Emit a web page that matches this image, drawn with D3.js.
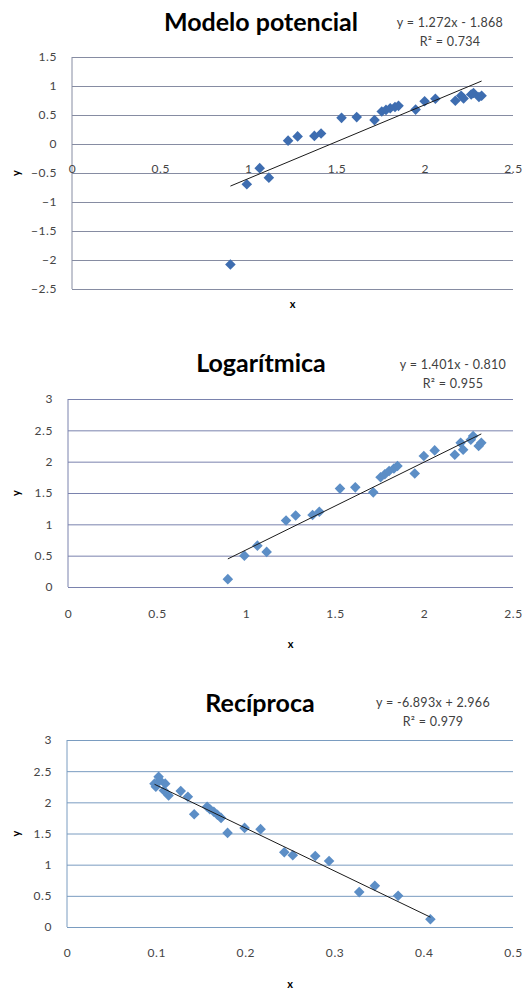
<!DOCTYPE html>
<html>
<head>
<meta charset="utf-8">
<script src="https://cdn.jsdelivr.net/npm/d3@7"></script>
<style>
    body { margin: 0; background: #fff; }
    .tick text { font-family: Lato, "Liberation Sans", sans-serif; font-size: 12px; letter-spacing: 0.6px; fill: #454545; }
    .grid path { display: none; }
</style>
</head>
<body>
<div id="chart"></div>
<script>
// Datos: modelo potencial (ln x, ln y)
var potencialX = [0.898, 0.991, 1.064, 1.116, 1.225, 1.279, 1.374, 1.412, 1.528, 1.614, 1.715, 1.756, 1.780,
                  1.804, 1.831, 1.851, 1.948, 1.999, 2.060, 2.173, 2.206, 2.220, 2.263, 2.276, 2.307, 2.322];
var potencialY = [-2.079, -0.693, -0.416, -0.580, 0.058, 0.131, 0.140, 0.182, 0.451, 0.464, 0.412, 0.560, 0.588,
                  0.615, 0.637, 0.658, 0.593, 0.737, 0.779, 0.747, 0.833, 0.784, 0.854, 0.880, 0.811, 0.833];

// Datos: logarítmica (ln x, y)
var logX = [0.898, 0.991, 1.064, 1.116, 1.225, 1.279, 1.374, 1.412, 1.528, 1.614, 1.715, 1.756, 1.780,
            1.804, 1.831, 1.851, 1.948, 1.999, 2.060, 2.173, 2.206, 2.220, 2.263, 2.276, 2.307, 2.322];
var logY = [0.125, 0.50, 0.66, 0.56, 1.06, 1.14, 1.15, 1.20, 1.57, 1.59, 1.51, 1.75, 1.80,
            1.85, 1.89, 1.93, 1.81, 2.09, 2.18, 2.11, 2.30, 2.19, 2.35, 2.41, 2.25, 2.30];

// Datos: recíproca (1/x, y)
var recX = [0.4074, 0.3712, 0.3451, 0.3276, 0.2938, 0.2783, 0.2531, 0.2436, 0.2170, 0.1991, 0.1800, 0.1727, 0.1686,
            0.1646, 0.1602, 0.1571, 0.1426, 0.1355, 0.1275, 0.1139, 0.1101, 0.1086, 0.1040, 0.1027, 0.0996, 0.0981];
var recY = [0.125, 0.50, 0.66, 0.56, 1.06, 1.14, 1.15, 1.20, 1.57, 1.59, 1.51, 1.75, 1.80,
            1.85, 1.89, 1.93, 1.81, 2.09, 2.18, 2.11, 2.30, 2.19, 2.35, 2.41, 2.25, 2.30];

// Líneas de tendencia [pendiente, intercepto]
var potencialTrend = [1.272, -1.868];
var logTrend = [1.401, -0.810];
var recTrend = [-6.893, 2.966];

// Ticks de los ejes
var ticksX = [0, 0.5, 1, 1.5, 2, 2.5];
var ticksXRec = [0, 0.1, 0.2, 0.3, 0.4, 0.5];
var ticksYPotencial = [-2.5, -2, -1.5, -1, -0.5, 0, 0.5, 1, 1.5];
var ticksY = [0, 0.5, 1, 1.5, 2, 2.5, 3];

// Títulos y ecuaciones
var titulos = ["Modelo potencial", "Logarítmica", "Recíproca"];
var ecuaciones = ["y = 1.272x - 1.868", "y = 1.401x - 0.810", "y = -6.893x + 2.966"];
var r2 = ["R² = 0.734", "R² = 0.955", "R² = 0.979"];

var svg = d3.select("#chart")
            .append("svg")
            .attr("width", 532)
            .attr("height", 990);

var fuente = "Lato, 'Liberation Sans', sans-serif";

function dibujarGrafico(xs, ys, trend, opt) {
    var xScale = d3.scaleLinear().domain(opt.xDom).range([opt.left, opt.right]);
    var yScale = d3.scaleLinear().domain(opt.yDom).range([opt.bottom, opt.top]);

    // Líneas de cuadrícula horizontales
    svg.append("g")
        .attr("class", "grid")
        .attr("transform", "translate(" + opt.left + ",0)")
        .call(d3.axisLeft(yScale).tickValues(opt.yTicks).tickSize(-(opt.right - opt.left)).tickFormat(""))
        .selectAll("line").style("stroke", opt.gridColor);

    // Borde izquierdo
    svg.append("line")
        .attr("x1", opt.left).attr("x2", opt.left)
        .attr("y1", opt.top).attr("y2", opt.bottom)
        .style("stroke", opt.gridColor);

    // Eje y (etiquetas)
    var gy = svg.append("g")
        .attr("transform", "translate(" + opt.left + ",0)")
        .call(d3.axisLeft(yScale).tickValues(opt.yTicks).tickSize(0).tickPadding(15).tickFormat(d3.format("")));
    gy.select(".domain").remove();

    // Eje x (etiquetas)
    var gx = svg.append("g")
        .attr("transform", "translate(0," + (opt.xLabelY - 7) + ")")
        .call(d3.axisBottom(xScale).tickValues(opt.xTicks).tickSize(0).tickFormat(d3.format("")));
    gx.select(".domain").remove();

    // Puntos (rombos)
    var datos = xs.map(function(x, i) { return { x: x, y: ys[i] }; });
    svg.selectAll(null)
        .data(datos)
        .enter().append("path")
        .attr("d", d3.symbol().type(d3.symbolSquare).size(56))
        .attr("transform", function(d) {
            return "translate(" + xScale(d.x) + "," + yScale(d.y) + ") rotate(45)";
        })
        .style("fill", opt.color);

    // Línea de tendencia
    var ext = d3.extent(xs);
    var linea = d3.line()
        .x(function(d) { return xScale(d); })
        .y(function(d) { return yScale(trend[0] * d + trend[1]); });
    svg.append("path")
        .datum(ext)
        .attr("d", linea)
        .style("fill", "none")
        .style("stroke", "#1a1a1a")
        .style("stroke-width", 1);

    // Título
    svg.append("text")
        .attr("x", opt.titleX)
        .attr("y", opt.titleY)
        .attr("text-anchor", "middle")
        .attr("dominant-baseline", "central")
        .style("font-family", fuente)
        .style("font-weight", "bold")
        .style("font-size", "25px")
        .style("fill", "#000")
        .text(opt.titulo);

    // Ecuación y R²
    svg.append("text")
        .attr("x", opt.eqX)
        .attr("y", opt.eqY)
        .attr("text-anchor", "middle")
        .attr("dominant-baseline", "central")
        .style("font-family", fuente)
        .style("font-size", "12.5px")
        .style("letter-spacing", "0.3px")
        .style("fill", "#404040")
        .text(opt.ecuacion);
    svg.append("text")
        .attr("x", opt.eqX)
        .attr("y", opt.eqY + 19)
        .attr("text-anchor", "middle")
        .attr("dominant-baseline", "central")
        .style("font-family", fuente)
        .style("font-size", "12.5px")
        .style("letter-spacing", "0.3px")
        .style("fill", "#404040")
        .text(opt.r2);

    // Títulos de ejes
    svg.append("text")
        .attr("x", (opt.left + opt.right) / 2)
        .attr("y", opt.xTitleY)
        .attr("text-anchor", "middle")
        .attr("dominant-baseline", "central")
        .style("font-family", fuente)
        .style("font-weight", "bold")
        .style("font-size", "11px")
        .text("x");
    svg.append("text")
        .attr("transform", "translate(15," + ((opt.top + opt.bottom) / 2) + ") rotate(-90)")
        .attr("text-anchor", "middle")
        .attr("dominant-baseline", "central")
        .style("font-family", fuente)
        .style("font-weight", "bold")
        .style("font-size", "11px")
        .text("y");
}

// Gráfico 1: modelo potencial
dibujarGrafico(potencialX, potencialY, potencialTrend, {
    left: 72, right: 513, top: 57, bottom: 289,
    xDom: [0, 2.5], yDom: [-2.5, 1.5],
    xTicks: ticksX, yTicks: ticksYPotencial,
    xLabelY: 168, xTitleY: 303,
    titleX: 261, titleY: 21, titulo: titulos[0],
    eqX: 450, eqY: 22, ecuacion: ecuaciones[0], r2: r2[0],
    color: "#3e6db0", gridColor: "#868ca2"
});

// Gráfico 2: logarítmica
dibujarGrafico(logX, logY, logTrend, {
    left: 68, right: 513, top: 399, bottom: 587,
    xDom: [0, 2.5], yDom: [0, 3],
    xTicks: ticksX, yTicks: ticksY,
    xLabelY: 613, xTitleY: 643,
    titleX: 261, titleY: 362, titulo: titulos[1],
    eqX: 453, eqY: 364, ecuacion: ecuaciones[1], r2: r2[1],
    color: "#5c8ec6", gridColor: "#7a82ad"
});

// Gráfico 3: recíproca
dibujarGrafico(recX, recY, recTrend, {
    left: 67, right: 513, top: 740, bottom: 927,
    xDom: [0, 0.5], yDom: [0, 3],
    xTicks: ticksXRec, yTicks: ticksY,
    xLabelY: 952, xTitleY: 983,
    titleX: 260, titleY: 702, titulo: titulos[2],
    eqX: 433, eqY: 702, ecuacion: ecuaciones[2], r2: r2[2],
    color: "#5c8ec6", gridColor: "#7a9cc0"
});
</script>
</body>
</html>
